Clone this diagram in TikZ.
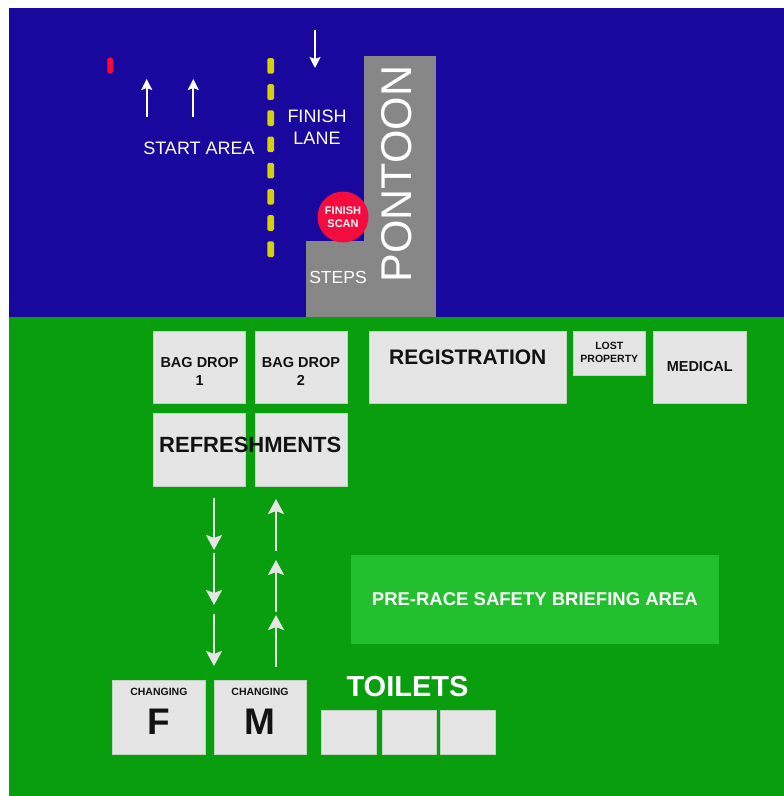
\documentclass[tikz,border=0pt]{standalone}
\usepackage{fontspec}
\setmainfont{Liberation Sans}
\usetikzlibrary{arrows.meta}

% font size in px, with line skip
\newcommand{\px}[2]{\fontsize{#1}{#2}\selectfont}

\begin{document}
\begin{tikzpicture}[x=1pt,y=-1pt,
	hut/.style={draw=boxEdge, fill=boxFill, line width=0.8pt, inner sep=0pt},
	sign/.style={text=signInk, font=\bfseries, align=center, inner sep=0pt},
	lakeText/.style={text=white, align=center, inner sep=0pt},
	swimArrow/.style={white, line width=1.8pt, -{Stealth[length=11pt, width=11pt, inset=2pt]}},
	walkArrow/.style={boxFill, line width=2.6pt, -{Stealth[length=15pt, width=16pt, inset=3pt]}}
]
	
	% ---- Adjustable colors ----
	\definecolor{water}{RGB}{24,8,158}
	\definecolor{grass}{RGB}{8,158,14}
	\definecolor{briefGreen}{RGB}{34,192,46}
	\definecolor{boxFill}{RGB}{229,229,229}
	\definecolor{boxEdge}{RGB}{190,212,190}
	\definecolor{pontoonGrey}{RGB}{135,135,135}
	\definecolor{scanRed}{RGB}{245,12,62}
	\definecolor{laneYellow}{RGB}{214,208,12}
	\definecolor{signInk}{RGB}{18,18,18}
	
	\useasboundingbox (0,0) rectangle (784,796);
	
	% ---- Water and grass ----
	\fill[water] (9,8) rectangle (784,317);
	\fill[grass] (9,317) rectangle (784,796);
	
	% ---- Pontoon and steps ----
	\fill[pontoonGrey] (363.5,56) rectangle (436,317);
	\fill[pontoonGrey] (306,241) rectangle (363.5,317);
	\node[lakeText, rotate=90, font=\px{43}{43}] (pontoon) at (397,174) {PONTOON};
	\node[lakeText, font=\px{17.5}{20}] (steps) at (338,277) {STEPS};
	
	% ---- Start buoy and lane markers ----
	\fill[scanRed, rounded corners=1.5pt] (107.3,57.7) rectangle (113,73.3);
	\foreach \k in {0,...,7}
	\fill[laneYellow, rounded corners=1.5pt] (267.3,{58+26.2*\k}) rectangle ++(6.7,15.6);
	
	% ---- Swim arrows ----
	\foreach \i/\xx in {1/146.7, 2/193.3}
	{
		\coordinate (startTail\i) at (\xx,117);
		\coordinate (startTip\i) at (\xx,79);
		\draw[swimArrow] (startTail\i) -- (startTip\i);
	}
	\coordinate (finTail) at (315,30);
	\coordinate (finTip) at (315,68);
	\draw[swimArrow] (finTail) -- (finTip);
	
	\node[lakeText, font=\px{18}{20}] (start) at (199,148) {START AREA};
	\node[lakeText, font=\px{18}{22}] (lane) at (317,127) {FINISH\\LANE};
	
	% ---- Finish scan ----
	\node[circle, fill=scanRed, minimum size=51pt, inner sep=0pt,
		text=white, font=\bfseries\px{11}{13}, align=center] (scan) at (343,217) {FINISH\\SCAN};
	
	% ---- Tents ----
	\foreach \name/\cx/\cy/\w/\h in {
		bagA/199.6/367/92/72,
		bagB/300.9/367/92/72,
		reg/467.8/367/197.5/72,
		lost/609.3/353/71.5/44,
		med/699.8/367/92.5/72,
		refA/199.6/450.2/92/73,
		refB/300.9/450.2/92/73,
		chF/158.9/717.5/92.3/73.6,
		chM/260/717.5/92/73.6,
		wcA/348.5/732/55/44,
		wcB/409/732/54/44,
		wcC/467.5/732/55/44
	}
	{
		\node[hut, minimum width=\w pt, minimum height=\h pt] (\name) at (\cx,\cy) {};
	}
	
	% ---- Tent signs ----
	\node[sign, font=\bfseries\px{14.5}{18}] (bagAText) at (199.6,371) {BAG DROP\\1};
	\node[sign, font=\bfseries\px{14.5}{18}] (bagBText) at (300.9,371) {BAG DROP\\2};
	\node[sign, font=\bfseries\px{21}{24}] (regText) at (467.8,357) {REGISTRATION};
	\node[sign, font=\bfseries\px{10.5}{13}] (lostText) at (609.3,352) {LOST\\PROPERTY};
	\node[sign, font=\bfseries\px{14.5}{18}] (medText) at (699.8,367) {MEDICAL};
	\node[sign, font=\bfseries\px{22}{24}] (refText) at (250.3,445) {REFRESHMENTS};
	\foreach \name/\letter in {chF/F, chM/M}
	{
		\node[sign, font=\bfseries\px{10.5}{12}] (\name Top) at ([yshift=25.5pt]\name.center) {CHANGING};
		\node[sign, font=\bfseries\px{37}{37}] (\name Letter) at ([yshift=-4.5pt]\name.center) {\letter};
	}
	
	% ---- Briefing area and toilets ----
	\node[fill=briefGreen, minimum width=368.3pt, minimum height=89pt, inner sep=0pt,
		text=white, font=\bfseries\px{18.5}{20}] (brief) at (534.85,599.5) {PRE-RACE SAFETY BRIEFING AREA};
	\node[lakeText, font=\bfseries\px{29}{30}] (toilets) at (407.5,687) {TOILETS};
	
	% ---- Walking arrows ----
	\foreach \i/\ya/\yb in {1/498/550, 2/553/605, 3/614/666}
	{
		\coordinate (outTail\i) at (214,\ya);
		\coordinate (outTip\i) at (214,\yb);
		\draw[walkArrow] (outTail\i) -- (outTip\i);
	}
	\foreach \i/\ya/\yb in {1/551/499, 2/612/560, 3/667/615}
	{
		\coordinate (backTail\i) at (276,\ya);
		\coordinate (backTip\i) at (276,\yb);
		\draw[walkArrow] (backTail\i) -- (backTip\i);
	}
	
\end{tikzpicture}
\end{document}
